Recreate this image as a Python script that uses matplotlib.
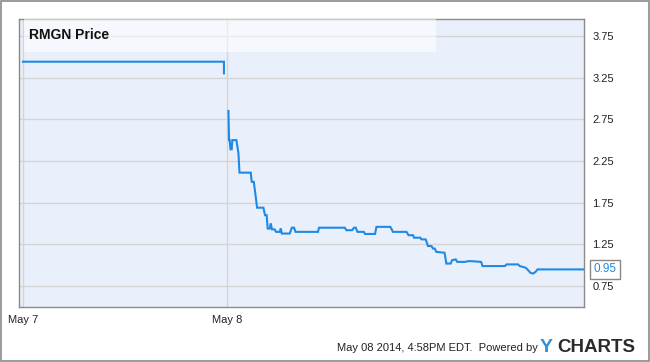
import numpy as np
import matplotlib
matplotlib.use("Agg")
import matplotlib.pyplot as plt
from matplotlib.patches import Rectangle

plt.rcParams["font.family"] = ["Liberation Sans", "DejaVu Sans"]

# ---------------- data (x in days from May 7) ----------------
day_labels = ["May 7", "May 8"]
day_ticks = [0.0, 1.0]
price_ticks = [0.75, 1.25, 1.75, 2.25, 2.75, 3.25, 3.75]

t = [0.0, 0.983, 0.983, np.nan,
     1.005, 1.008, 1.011, 1.015, 1.021, 1.024, 1.044, 1.054, 1.059, 1.114,
     1.119, 1.129, 1.137, 1.145, 1.176, 1.184, 1.192, 1.197, 1.207, 1.212,
     1.218, 1.231, 1.238, 1.256, 1.261, 1.266, 1.305, 1.315, 1.326, 1.333,
     1.443, 1.448, 1.574, 1.582, 1.610, 1.619, 1.628, 1.636, 1.667, 1.673,
     1.722, 1.729, 1.797, 1.810, 1.876, 1.886, 1.908, 1.913, 1.944, 1.949,
     1.970, 1.981, 1.998, 2.006, 2.014, 2.022, 2.062, 2.071, 2.092, 2.099,
     2.117, 2.124, 2.161, 2.182, 2.215, 2.241, 2.248, 2.357, 2.365, 2.422,
     2.430, 2.459, 2.471, 2.482, 2.495, 2.507, 2.517, 2.745]
price = [3.44, 3.44, 3.30, np.nan,
         2.85, 2.50, 2.50, 2.39, 2.39, 2.50, 2.50, 2.34, 2.11, 2.11,
         2.00, 2.00, 1.85, 1.69, 1.69, 1.60, 1.60, 1.44, 1.44, 1.50,
         1.43, 1.43, 1.40, 1.40, 1.44, 1.38, 1.38, 1.45, 1.45, 1.40,
         1.40, 1.45, 1.45, 1.42, 1.42, 1.45, 1.45, 1.40, 1.40, 1.375,
         1.375, 1.46, 1.46, 1.40, 1.40, 1.36, 1.36, 1.33, 1.33, 1.31,
         1.31, 1.23, 1.23, 1.20, 1.20, 1.16, 1.15, 1.02, 1.02, 1.06,
         1.07, 1.04, 1.04, 1.05, 1.045, 1.04, 0.99, 0.99, 1.01, 1.01,
         0.99, 0.97, 0.94, 0.91, 0.90, 0.92, 0.95, 0.95]
last_price = 0.95

# ---------------- plot ----------------
fig = plt.figure(figsize=(6.5, 3.62), dpi=100)
ax = fig.add_axes([0.0297, 0.153, 0.869, 0.795])
ax.set_facecolor("#eaf0fb")

ax.plot(t, price, color="#1f8ae6", linewidth=1.5, solid_joinstyle="miter")

ax.set_xlim(-0.018, 2.745)
ax.set_ylim(0.504, 3.954)
ax.set_xticks(day_ticks)
ax.set_xticklabels(day_labels)
ax.set_yticks(price_ticks)
ax.set_yticklabels([f"{v:.2f}" for v in price_ticks])
ax.yaxis.tick_right()
ax.tick_params(axis="both", length=0, labelsize=8, colors="#222222")
ax.tick_params(axis="y", pad=6)
ax.tick_params(axis="x", pad=6)
ax.grid(True, color="#d4d4d4", linewidth=1)
ax.set_axisbelow(True)
for s in ax.spines.values():
    s.set_color("#8a8a8a")
    s.set_linewidth(1)

# title strip
ax.add_patch(Rectangle((0.0076, 0.885), 0.73, 0.115, transform=ax.transAxes,
                       facecolor="white", alpha=0.55, edgecolor="none", zorder=3))
ax.text(0.018, 0.943, "RMGN Price", transform=ax.transAxes, fontsize=10,
        fontweight="bold", color="#111111", va="center", ha="left", zorder=4)

# last value tag
ax.annotate(f"{last_price:.2f}", xy=(1.0, last_price), xycoords=("axes fraction", "data"),
            xytext=(7, 0), textcoords="offset points", fontsize=8.5, color="#1f8ae6",
            va="center", ha="left", annotation_clip=False,
            bbox=dict(boxstyle="square,pad=0.3", facecolor="white", edgecolor="#888888", lw=1))

# footer
fig.text(0.827, 0.038, "May 08 2014, 4:58PM EDT.  Powered by", fontsize=8,
         color="#222222", ha="right", va="center")
fig.text(0.831, 0.04, "Y", fontsize=14, fontweight="bold", color="#2f8fdc",
         ha="left", va="center")
fig.text(0.857, 0.04, "CHARTS", fontsize=13.5, fontweight="bold", color="#2b2b2b",
         ha="left", va="center")

# outer border
fig.add_artist(Rectangle((0.001, 0.002), 0.997, 0.995, transform=fig.transFigure,
                         fill=False, edgecolor="#8a8a8a", linewidth=1.2))

fig.savefig("out.png", dpi=100)
